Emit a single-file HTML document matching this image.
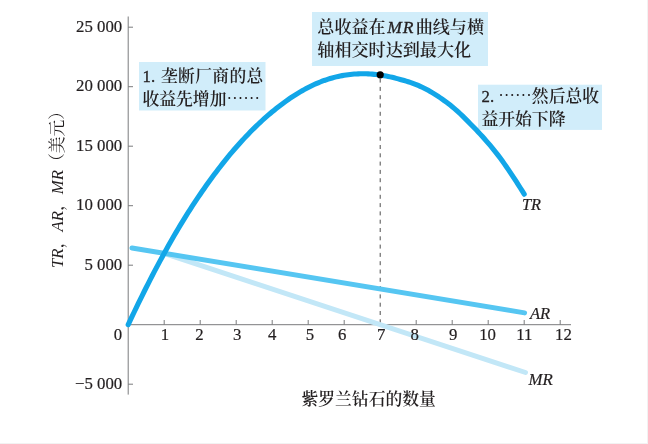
<!DOCTYPE html>
<html><head><meta charset="utf-8">
<style>
html,body{margin:0;padding:0;background:#fff;}
body{width:648px;height:444px;overflow:hidden;position:relative;}
svg{position:absolute;left:0;top:0;filter:blur(0.4px);}
.n{font-family:"Liberation Serif","Noto Serif CJK SC",serif;font-size:16.8px;fill:#231f20;}
.s{stroke:#231f20;stroke-width:0.2px;}
.i{font-family:"Liberation Serif",serif;font-style:italic;font-size:17px;fill:#231f20;}
.c{font-family:"Liberation Serif","Noto Serif CJK SC",serif;font-size:16.8px;fill:#231f20;font-weight:600}
.e{font-family:"Noto Serif CJK SC",serif;}
.l{font-weight:400;stroke:#231f20;stroke-width:0.3px;}
</style></head>
<body>
<svg width="648" height="444" viewBox="0 0 648 444">
<rect x="0" y="0" width="648" height="444" fill="#fff"/>
<rect x="647" y="0" width="1" height="444" fill="#f2f2f2"/>
<rect x="0" y="443" width="648" height="1" fill="#f2f2f2"/>
<rect x="312" y="12" width="176" height="54" fill="#d1edfa"/>
<rect x="139" y="62" width="126.5" height="48.5" fill="#d1edfa"/>
<rect x="478" y="84.7" width="124" height="45.2" fill="#d1edfa"/>
<g stroke="#7a7b7d" stroke-width="1" fill="none">
<line x1="128.2" y1="16.5" x2="128.2" y2="394.6"/>
<line x1="128.2" y1="324.7" x2="571" y2="324.7"/>
<line x1="128.2" y1="27.20" x2="133.00" y2="27.20"/>
<line x1="128.2" y1="86.70" x2="133.00" y2="86.70"/>
<line x1="128.2" y1="146.20" x2="133.00" y2="146.20"/>
<line x1="128.2" y1="205.70" x2="133.00" y2="205.70"/>
<line x1="128.2" y1="265.20" x2="133.00" y2="265.20"/>
<line x1="128.2" y1="384.20" x2="133.00" y2="384.20"/>
<line x1="164.20" y1="320" x2="164.20" y2="324.7"/>
<line x1="200.20" y1="320" x2="200.20" y2="324.7"/>
<line x1="236.20" y1="320" x2="236.20" y2="324.7"/>
<line x1="272.20" y1="320" x2="272.20" y2="324.7"/>
<line x1="308.20" y1="320" x2="308.20" y2="324.7"/>
<line x1="344.20" y1="320" x2="344.20" y2="324.7"/>
<line x1="416.20" y1="320" x2="416.20" y2="324.7"/>
<line x1="452.20" y1="320" x2="452.20" y2="324.7"/>
<line x1="488.20" y1="320" x2="488.20" y2="324.7"/>
<line x1="524.20" y1="320" x2="524.20" y2="324.7"/>
<line x1="560.20" y1="320" x2="560.20" y2="324.7"/>
</g>
<line x1="380.2" y1="78.6" x2="380.2" y2="324.7" stroke="#3a3a3a" stroke-width="0.9" stroke-dasharray="4,4.3"/>
<line x1="164" y1="253.3" x2="525.5" y2="372.5" stroke="#c2e7f7" stroke-width="5" stroke-linecap="round"/>
<line x1="132" y1="248" x2="524.6" y2="312.9" stroke="#56c6f2" stroke-width="5" stroke-linecap="round"/>
<path d="M128.20,324.70 L130.20,320.42 L132.20,316.18 L134.20,311.97 L136.20,307.80 L138.20,303.67 L140.20,299.58 L142.20,295.52 L144.20,291.50 L146.20,287.51 L148.20,283.56 L150.20,279.65 L152.20,275.78 L154.20,271.94 L156.20,268.14 L158.20,264.37 L160.20,260.65 L162.20,256.95 L164.20,253.30 L166.20,249.68 L168.20,246.10 L170.20,242.56 L172.20,239.05 L174.20,235.58 L176.20,232.16 L178.20,228.77 L180.20,225.43 L182.20,222.13 L184.20,218.88 L186.20,215.66 L188.20,212.48 L190.20,209.34 L192.20,206.24 L194.20,203.18 L196.20,200.15 L198.20,197.17 L200.20,194.22 L202.20,191.31 L204.20,188.43 L206.20,185.59 L208.20,182.79 L210.20,180.02 L212.20,177.29 L214.20,174.59 L216.20,171.92 L218.20,169.29 L220.20,166.69 L222.20,164.13 L224.20,161.60 L226.20,159.11 L228.20,156.66 L230.20,154.24 L232.20,151.86 L234.20,149.52 L236.20,147.22 L238.20,144.95 L240.20,142.71 L242.20,140.52 L244.20,138.36 L246.20,136.23 L248.20,134.14 L250.20,132.09 L252.20,130.07 L254.20,128.09 L256.20,126.14 L258.20,124.23 L260.20,122.35 L262.20,120.50 L264.20,118.69 L266.20,116.92 L268.20,115.18 L270.20,113.47 L272.20,111.80 L274.20,110.16 L276.20,108.55 L278.20,106.97 L280.20,105.43 L282.20,103.92 L284.20,102.44 L286.20,101.00 L288.20,99.59 L290.20,98.22 L292.20,96.88 L294.20,95.58 L296.20,94.31 L298.20,93.08 L300.20,91.89 L302.20,90.73 L304.20,89.61 L306.20,88.52 L308.20,87.48 L310.20,86.47 L312.20,85.50 L314.20,84.56 L316.20,83.67 L318.20,82.81 L320.20,82.00 L322.20,81.22 L324.20,80.48 L326.20,79.79 L328.20,79.13 L330.20,78.51 L332.20,77.94 L334.20,77.40 L336.20,76.90 L338.20,76.43 L340.20,76.00 L342.20,75.62 L344.20,75.26 L346.20,74.95 L348.20,74.67 L350.20,74.43 L352.20,74.22 L354.20,74.05 L356.20,73.92 L358.20,73.83 L360.20,73.77 L362.20,73.74 L364.20,73.75 L366.20,73.80 L368.20,73.89 L370.20,74.01 L372.20,74.16 L374.20,74.34 L376.20,74.55 L378.20,74.79 L380.20,75.06 L382.20,75.36 L384.20,75.69 L386.20,76.06 L388.20,76.45 L390.20,76.88 L392.20,77.35 L394.20,77.84 L396.20,78.37 L398.20,78.90 L400.20,79.43 L402.20,79.98 L404.20,80.54 L406.20,81.13 L408.20,81.74 L410.20,82.39 L412.20,83.08 L414.20,83.82 L416.20,84.60 L418.20,85.44 L420.20,86.34 L422.20,87.29 L424.20,88.28 L426.20,89.31 L428.20,90.37 L430.20,91.48 L432.20,92.64 L434.20,93.84 L436.20,95.09 L438.20,96.39 L440.20,97.74 L442.20,99.13 L444.20,100.56 L446.20,102.03 L448.20,103.55 L450.20,105.11 L452.20,106.72 L454.20,108.37 L456.20,110.09 L458.20,111.89 L460.20,113.75 L462.20,115.68 L464.20,117.65 L466.20,119.64 L468.20,121.65 L470.20,123.67 L472.20,125.69 L474.20,127.75 L476.20,129.84 L478.20,131.96 L480.20,134.12 L482.20,136.31 L484.20,138.55 L486.20,140.82 L488.20,143.12 L490.20,145.47 L492.20,147.86 L494.20,150.29 L496.20,152.78 L498.20,155.38 L500.20,158.06 L502.20,160.81 L504.20,163.61 L506.20,166.44 L508.20,169.36 L510.20,172.33 L512.20,175.34 L514.20,178.38 L516.20,181.46 L518.20,184.58 L520.20,187.75 L522.20,190.95 L524.20,194.20" stroke="#12a6e8" stroke-width="5.1" fill="none" stroke-linecap="round" stroke-linejoin="round"/>
<circle cx="380.2" cy="74.8" r="3.6" fill="#000"/>
<g class="n s" text-anchor="end">
<text x="122.2" y="31.60">25 000</text>
<text x="122.2" y="91.10">20 000</text>
<text x="122.2" y="150.60">15 000</text>
<text x="122.2" y="210.10">10 000</text>
<text x="122.2" y="269.60">5 000</text>
<text x="122.2" y="388.60">−5 000</text>
<text x="122.2" y="339.5">0</text>
</g>
<g class="n s" text-anchor="middle">
<text x="165.00" y="339.5">1</text>
<text x="199.40" y="339.5">2</text>
<text x="237.20" y="339.5">3</text>
<text x="272.20" y="339.5">4</text>
<text x="309.90" y="339.5">5</text>
<text x="342.20" y="339.5">6</text>
<text x="381.20" y="339.5">7</text>
<text x="414.70" y="339.5">8</text>
<text x="453.20" y="339.5">9</text>
<text x="487.60" y="339.5">10</text>
<text x="524.40" y="339.5">11</text>
<text x="563.50" y="339.5">12</text>
</g>
<text class="i s" x="522" y="210.2" style="font-size:16.3px">TR</text>
<text class="i s" x="530" y="319" style="font-size:16.5px">AR</text>
<text class="i s" x="528.5" y="385" style="font-size:16.8px">MR</text>
<text class="c" x="301.5" y="405">紫罗兰钻石的数量</text>
<text class="n" transform="translate(63,268) rotate(-90)"><tspan font-style="italic">TR</tspan>，<tspan font-style="italic">AR</tspan>，<tspan font-style="italic">MR</tspan>（美元）</text>
<text class="c" x="142.5" y="81.5"><tspan class="l">1. </tspan><tspan dx="1.6" letter-spacing="0.35">垄断厂商的总</tspan></text>
<text class="c" x="142.5" y="104.5">收益先增加<tspan class="e">……</tspan></text>
<text class="c" x="317.3" y="32.8" style="font-size:17.1px">总收益在<tspan class="l" font-style="italic" font-size="17.5" dx="1.5" letter-spacing="1">MR</tspan><tspan dx="1.2">曲线与横</tspan></text>
<text class="c" x="317.3" y="55.8" style="font-size:17.1px">轴相交时达到最大化</text>
<text class="c" x="481.5" y="101.5"><tspan class="l">2. </tspan><tspan class="e">……</tspan>然后总收</text>
<text class="c" x="481.5" y="124.5">益开始下降</text>
</svg>
</body></html>
